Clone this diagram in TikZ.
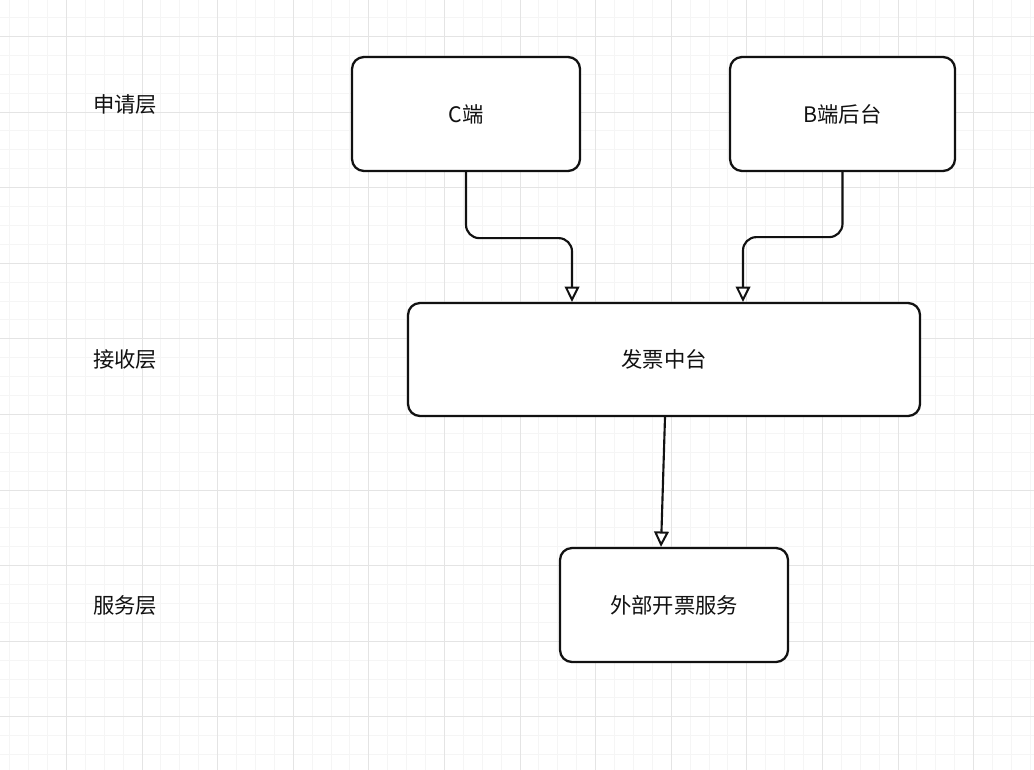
\documentclass[tikz,border=0pt]{standalone}
\usepackage{fontspec}
\newfontfamily\cjk{Noto Sans CJK SC}
\usetikzlibrary{arrows.meta,calc}
\definecolor{gridminor}{HTML}{F5F5F5}
\definecolor{gridmajor}{HTML}{E4E4E4}
\definecolor{ink}{HTML}{111111}
\tikzset{
  txt/.style={font=\cjk\fontsize{16}{19}\selectfont, text=ink},
  box/.style={txt, draw=ink, line width=1.7pt, rounded corners=9pt, fill=white,
    minimum height=85.5pt, inner sep=0pt},
  conn/.style={draw=ink, line width=1.6pt, rounded corners=10pt,
    -{Triangle[open, length=11.5pt, width=11pt, line width=1.5pt]}},
  minor/.style={draw=gridminor, line width=0.75pt},
  major/.style={draw=gridmajor, line width=0.75pt}
}
\begin{document}
\begin{tikzpicture}[x=0.75pt,y=-0.75pt]
\useasboundingbox (0,0) rectangle (1034,770);
\fill[white] (0,0) rectangle (1034,770);
% grid
\foreach \i in {0,...,55} {
  \pgfmathsetmacro{\gx}{round(9.3+18.9*\i)+0.5}
  \draw[minor] (\gx,0) -- (\gx,770);
}
\foreach \i in {0,...,41} {
  \pgfmathsetmacro{\gy}{round(-1.8+18.9*\i)+0.5}
  \draw[minor] (0,\gy) -- (1034,\gy);
}
\foreach \i in {0,...,13} {
  \pgfmathsetmacro{\gx}{round(66+75.6*\i)+0.5}
  \draw[major] (\gx,0) -- (\gx,770);
}
\foreach \i in {0,...,9} {
  \pgfmathsetmacro{\gy}{round(36+75.6*\i)+0.5}
  \draw[major] (0,\gy) -- (1034,\gy);
}
% layer labels
\node[txt] (l1) at (125,104) {申请层};
\node[txt] (l2) at (125,359) {接收层};
\node[txt] (l3) at (125,605) {服务层};
% boxes
\node[box, minimum width=171pt] (c) at (466,114) {C端};
\node[box, minimum width=168.75pt] (b) at (842.5,114) {B端后台};
\node[box, minimum width=384pt, minimum height=84.75pt] (mid) at (664,359.5) {发票中台};
\node[box, minimum width=171pt] (ext) at (674,605) {外部开票服务};
% connectors
\draw[conn] (c.south) -- ++(0,66) -| ([xshift=-69pt]mid.north);
\draw[conn] (b.south) -- ++(0,65) -| ([xshift=59.25pt]mid.north);
\draw[conn] ([xshift=0.75pt]mid.south) -- ([xshift=-9.75pt]ext.north);
\end{tikzpicture}
\end{document}
